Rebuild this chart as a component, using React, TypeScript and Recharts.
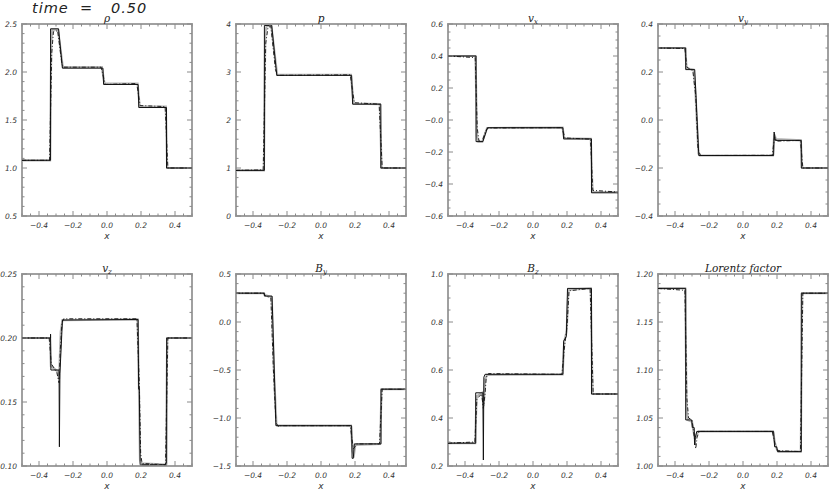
import React from 'react';
import { LineChart, Line, XAxis, YAxis, ReferenceArea } from 'recharts';

type Pt = [number, number];

// x axis (shared by all panels)
const xMajor = [-0.4, -0.2, 0.0, 0.2, 0.4];
const xMajorLabels = ['\u22120.4', '\u22120.2', '0.0', '0.2', '0.4'];

// density
const rhoExact: Pt[] = [[-0.5, 1.08], [-0.332, 1.08], [-0.332, 2.45], [-0.285, 2.45], [-0.262, 2.04], [-0.024, 2.04], [-0.02, 1.87], [0.183, 1.87], [0.187, 1.63], [0.35, 1.63], [0.35, 1.0], [0.5, 1.0]];
const rhoFine: Pt[] = [[-0.5, 1.08], [-0.335, 1.08], [-0.328, 2.3], [-0.322, 2.44], [-0.288, 2.44], [-0.26, 2.05], [-0.03, 2.05], [-0.015, 1.88], [0.18, 1.88], [0.192, 1.64], [0.346, 1.64], [0.354, 1.0], [0.5, 1.0]];
const rhoCoarse: Pt[] = [[-0.5, 1.08], [-0.338, 1.08], [-0.325, 2.2], [-0.315, 2.42], [-0.29, 2.43], [-0.265, 2.08], [-0.255, 2.05], [-0.035, 2.05], [-0.01, 1.87], [0.175, 1.88], [0.195, 1.65], [0.342, 1.64], [0.358, 1.0], [0.5, 1.0]];

// pressure
const pExact: Pt[] = [[-0.5, 0.95], [-0.333, 0.95], [-0.333, 3.97], [-0.29, 3.97], [-0.26, 2.93], [0.18, 2.93], [0.186, 2.33], [0.352, 2.33], [0.352, 1.0], [0.5, 1.0]];
const pFine: Pt[] = [[-0.5, 0.95], [-0.336, 0.95], [-0.328, 3.8], [-0.32, 3.96], [-0.292, 3.96], [-0.258, 2.94], [0.176, 2.94], [0.192, 2.34], [0.346, 2.33], [0.356, 1.0], [0.5, 1.0]];
const pCoarse: Pt[] = [[-0.5, 0.95], [-0.34, 0.96], [-0.325, 3.6], [-0.312, 3.93], [-0.295, 3.95], [-0.268, 3.05], [-0.255, 2.93], [0.172, 2.94], [0.196, 2.36], [0.342, 2.33], [0.36, 1.0], [0.5, 1.0]];

// v_x
const vxExact: Pt[] = [[-0.5, 0.4], [-0.335, 0.4], [-0.335, -0.135], [-0.295, -0.135], [-0.268, -0.048], [0.176, -0.048], [0.18, -0.118], [0.344, -0.118], [0.344, -0.455], [0.5, -0.455]];
const vxFine: Pt[] = [[-0.5, 0.4], [-0.338, 0.4], [-0.33, -0.1], [-0.322, -0.135], [-0.298, -0.135], [-0.27, -0.05], [0.174, -0.048], [0.184, -0.115], [0.34, -0.118], [0.35, -0.45], [0.5, -0.45]];
const vxCoarse: Pt[] = [[-0.5, 0.4], [-0.34, 0.39], [-0.328, -0.05], [-0.318, -0.13], [-0.3, -0.138], [-0.28, -0.07], [-0.265, -0.05], [0.17, -0.048], [0.188, -0.112], [0.338, -0.12], [0.352, -0.44], [0.5, -0.45]];

// v_y
const vyExact: Pt[] = [[-0.5, 0.3], [-0.337, 0.3], [-0.337, 0.21], [-0.284, 0.21], [-0.26, -0.148], [0.18, -0.148], [0.183, -0.05], [0.19, -0.085], [0.343, -0.085], [0.343, -0.2], [0.5, -0.2]];
const vyFine: Pt[] = [[-0.5, 0.3], [-0.34, 0.3], [-0.332, 0.215], [-0.29, 0.21], [-0.28, 0.12], [-0.262, -0.14], [-0.255, -0.148], [0.176, -0.148], [0.184, -0.06], [0.194, -0.08], [0.34, -0.085], [0.348, -0.2], [0.5, -0.2]];
const vyCoarse: Pt[] = [[-0.5, 0.3], [-0.342, 0.298], [-0.33, 0.22], [-0.295, 0.205], [-0.278, 0.1], [-0.265, -0.12], [-0.25, -0.148], [0.172, -0.147], [0.186, -0.07], [0.198, -0.088], [0.338, -0.085], [0.352, -0.2], [0.5, -0.2]];

// v_z
const vzExact: Pt[] = [[-0.5, 0.2], [-0.332, 0.2], [-0.332, 0.203], [-0.33, 0.175], [-0.282, 0.175], [-0.28, 0.115], [-0.277, 0.172], [-0.262, 0.214], [0.183, 0.2145], [0.186, 0.16], [0.19, 0.16], [0.195, 0.101], [0.351, 0.101], [0.351, 0.2], [0.5, 0.2]];
const vzFine: Pt[] = [[-0.5, 0.2], [-0.336, 0.2], [-0.33, 0.178], [-0.29, 0.174], [-0.282, 0.168], [-0.272, 0.205], [-0.262, 0.214], [0.18, 0.2145], [0.188, 0.16], [0.194, 0.105], [0.2, 0.102], [0.347, 0.101], [0.354, 0.2], [0.5, 0.2]];
const vzCoarse: Pt[] = [[-0.5, 0.2], [-0.34, 0.2], [-0.328, 0.18], [-0.295, 0.173], [-0.282, 0.165], [-0.275, 0.19], [-0.265, 0.212], [-0.255, 0.215], [0.176, 0.215], [0.19, 0.165], [0.198, 0.11], [0.206, 0.102], [0.344, 0.101], [0.358, 0.2], [0.5, 0.2]];

// B_y
const byExact: Pt[] = [[-0.5, 0.3], [-0.333, 0.3], [-0.333, 0.27], [-0.288, 0.27], [-0.265, -1.08], [0.18, -1.08], [0.183, -1.42], [0.19, -1.42], [0.196, -1.27], [0.353, -1.27], [0.353, -0.7], [0.5, -0.7]];
const byFine: Pt[] = [[-0.5, 0.3], [-0.336, 0.3], [-0.33, 0.28], [-0.29, 0.26], [-0.275, -0.6], [-0.262, -1.07], [-0.255, -1.08], [0.176, -1.08], [0.186, -1.35], [0.194, -1.38], [0.202, -1.28], [0.348, -1.27], [0.356, -0.7], [0.5, -0.7]];
const byCoarse: Pt[] = [[-0.5, 0.3], [-0.34, 0.3], [-0.325, 0.27], [-0.295, 0.25], [-0.28, -0.5], [-0.265, -1.05], [-0.25, -1.09], [-0.24, -1.08], [0.172, -1.08], [0.19, -1.32], [0.2, -1.3], [0.21, -1.27], [0.344, -1.27], [0.36, -0.7], [0.5, -0.7]];

// B_z
const bzExact: Pt[] = [[-0.5, 0.295], [-0.337, 0.295], [-0.337, 0.505], [-0.295, 0.505], [-0.292, 0.225], [-0.289, 0.57], [-0.282, 0.582], [0.176, 0.582], [0.18, 0.72], [0.196, 0.74], [0.203, 0.94], [0.344, 0.94], [0.344, 0.5], [0.5, 0.5]];
const bzFine: Pt[] = [[-0.5, 0.295], [-0.34, 0.295], [-0.332, 0.49], [-0.3, 0.505], [-0.29, 0.45], [-0.282, 0.56], [-0.27, 0.58], [0.174, 0.582], [0.184, 0.72], [0.198, 0.76], [0.208, 0.935], [0.34, 0.94], [0.35, 0.5], [0.5, 0.5]];
const bzCoarse: Pt[] = [[-0.5, 0.295], [-0.342, 0.3], [-0.33, 0.48], [-0.302, 0.5], [-0.292, 0.44], [-0.282, 0.5], [-0.275, 0.57], [-0.262, 0.585], [0.17, 0.582], [0.186, 0.7], [0.2, 0.78], [0.212, 0.93], [0.336, 0.94], [0.354, 0.5], [0.5, 0.5]];

// Lorentz factor
const lfExact: Pt[] = [[-0.5, 1.185], [-0.337, 1.185], [-0.337, 1.048], [-0.302, 1.048], [-0.298, 1.04], [-0.287, 1.04], [-0.285, 1.022], [-0.28, 1.03], [-0.272, 1.036], [0.18, 1.036], [0.186, 1.02], [0.198, 1.02], [0.203, 1.015], [0.343, 1.015], [0.343, 1.18], [0.5, 1.18]];
const lfFine: Pt[] = [[-0.5, 1.185], [-0.34, 1.185], [-0.332, 1.06], [-0.325, 1.048], [-0.3, 1.046], [-0.29, 1.035], [-0.282, 1.028], [-0.27, 1.034], [-0.262, 1.036], [0.176, 1.036], [0.188, 1.024], [0.2, 1.017], [0.208, 1.015], [0.34, 1.015], [0.348, 1.18], [0.5, 1.18]];
const lfCoarse: Pt[] = [[-0.5, 1.185], [-0.342, 1.183], [-0.33, 1.07], [-0.32, 1.05], [-0.3, 1.048], [-0.288, 1.032], [-0.278, 1.018], [-0.27, 1.03], [-0.258, 1.036], [0.172, 1.036], [0.19, 1.022], [0.204, 1.016], [0.338, 1.015], [0.352, 1.18], [0.5, 1.18]];

// y axis ticks / labels
const rhoTicks = [0.5, 1.0, 1.5, 2.0, 2.5];
const rhoLabels = ['0.5', '1.0', '1.5', '2.0', '2.5'];
const pTicks = [0, 1, 2, 3, 4];
const pLabels = ['0', '1', '2', '3', '4'];
const vxTicks = [-0.6, -0.4, -0.2, 0.0, 0.2, 0.4, 0.6];
const vxLabels = ['\u22120.6', '\u22120.4', '\u22120.2', '\u22120.0', '0.2', '0.4', '0.6'];
const vyTicks = [-0.4, -0.2, 0.0, 0.2, 0.4];
const vyLabels = ['\u22120.4', '\u22120.2', '0.0', '0.2', '0.4'];
const vzTicks = [0.1, 0.15, 0.2, 0.25];
const vzLabels = ['0.10', '0.15', '0.20', '0.25'];
const byTicks = [-1.5, -1.0, -0.5, 0.0, 0.5];
const byLabels = ['\u22121.5', '\u22121.0', '\u22120.5', '0.0', '0.5'];
const bzTicks = [0.2, 0.4, 0.6, 0.8, 1.0];
const bzLabels = ['0.2', '0.4', '0.6', '0.8', '1.0'];
const lfTicks = [1.0, 1.05, 1.1, 1.15, 1.2];
const lfLabels = ['1.00', '1.05', '1.10', '1.15', '1.20'];

const PW = 170;
const PH = 192;
const ML = 40;
const MT = 20;
const CW = 230;
const CH = 250;
const TICK = '#8a8a8a';
const FRAME = '#a0a0a0';
const LABEL_FONT = { fontFamily: 'DejaVu Sans', fontStyle: 'italic', fontSize: 7.5, fill: '#333' } as const;

const minorTicks = (lo: number, hi: number, step: number) => {
  const out: number[] = [];
  const n = Math.round((hi - lo) / step);
  for (let i = 0; i <= n; i++) out.push(Math.round((lo + i * step) * 1e6) / 1e6);
  return out;
};

const xMinor = minorTicks(-0.5, 0.5, 0.05);

const findMajor = (majors: number[], v: number) => majors.findIndex((m) => Math.abs(m - v) < 1e-6);

const renderXTick = (props: any) => {
  const { x, y, payload } = props;
  const pb = y - 7;
  const idx = findMajor(xMajor, payload.value);
  const len = idx >= 0 ? 5 : 2.5;
  return (
    <g>
      <line x1={x} x2={x} y1={pb} y2={pb - len} stroke={TICK} />
      <line x1={x} x2={x} y1={pb - PH} y2={pb - PH + len} stroke={TICK} />
      {idx >= 0 && (
        <text x={x} y={y} dy="0.71em" textAnchor="middle" {...LABEL_FONT}>
          {xMajorLabels[idx]}
        </text>
      )}
    </g>
  );
};

const makeYTick = (majors: number[], labels: string[]) => (props: any) => {
  const { x, y, payload } = props;
  const pl = x + 5;
  const idx = findMajor(majors, payload.value);
  const len = idx >= 0 ? 5 : 2.5;
  return (
    <g>
      <line x1={pl} x2={pl + len} y1={y} y2={y} stroke={TICK} />
      <line x1={pl + PW} x2={pl + PW - len} y1={y} y2={y} stroke={TICK} />
      {idx >= 0 && (
        <text x={x} y={y} dy="0.35em" textAnchor="end" {...LABEL_FONT}>
          {labels[idx]}
        </text>
      )}
    </g>
  );
};

const toRows = (pts: Pt[]) => pts.map(([x, y]) => ({ x, y }));

interface PanelProps {
  title: React.ReactNode;
  left: number;
  top: number;
  domain: [number, number];
  majors: number[];
  labels: string[];
  minorStep: number;
  exact: Pt[];
  fine: Pt[];
  coarse: Pt[];
}

function Panel({ title, left, top, domain, majors, labels, minorStep, exact, fine, coarse }: PanelProps) {
  const yMinor = minorTicks(domain[0], domain[1], minorStep);
  return (
    <div style={{ position: 'absolute', left: left - ML, top: top - MT, width: CW, height: CH }}>
      <LineChart width={CW} height={CH} margin={{ top: MT, right: CW - ML - PW, left: 0, bottom: 0 }}>
        <XAxis
          type="number"
          dataKey="x"
          domain={[-0.5, 0.5]}
          ticks={xMinor}
          interval={0}
          tickSize={0}
          tickMargin={7}
          axisLine={false}
          tick={renderXTick}
          height={CH - MT - PH}
          allowDataOverflow
          label={{ value: 'x', position: 'insideBottom', offset: 15, style: { fontFamily: 'DejaVu Sans', fontStyle: 'italic', fontSize: 9, fill: '#333' } }}
        />
        <YAxis
          type="number"
          domain={domain}
          ticks={yMinor}
          interval={0}
          tickSize={0}
          tickMargin={5}
          axisLine={false}
          width={ML}
          tick={makeYTick(majors, labels)}
          allowDataOverflow
        />
        <ReferenceArea x1={-0.5} x2={0.5} y1={domain[0]} y2={domain[1]} fill="none" stroke={FRAME} strokeWidth={2} ifOverflow="visible" />
        <Line data={toRows(fine)} dataKey="y" type="linear" stroke="#b4b4b4" strokeWidth={2.2} dot={false} isAnimationActive={false} />
        <Line data={toRows(coarse)} dataKey="y" type="linear" stroke="#222" strokeWidth={1} strokeDasharray="4 2 1 2" dot={false} isAnimationActive={false} />
        <Line data={toRows(exact)} dataKey="y" type="linear" stroke="#111" strokeWidth={1} dot={false} isAnimationActive={false} />
      </LineChart>
      <div
        style={{
          position: 'absolute', left: ML, top: MT - 11, width: PW, height: 10, zIndex: 2,
          textAlign: 'center', whiteSpace: 'nowrap',
          fontFamily: 'DejaVu Serif', fontStyle: 'italic', fontSize: 10.5, lineHeight: '10px', color: '#222',
        }}
      >
        {title}
      </div>
    </div>
  );
}

const sub = (base: string, s: string) => (
  <span>
    {base}
    <span style={{ fontSize: 7, position: 'relative', top: 2 }}>{s}</span>
  </span>
);

const timeStyle = {
  position: 'absolute', top: 0, fontFamily: 'DejaVu Sans', fontStyle: 'italic',
  fontSize: 14.5, lineHeight: '17px', letterSpacing: 1, whiteSpace: 'pre', color: '#222',
} as const;

export default function App() {
  const cols = [22, 236, 448, 658];
  const rows = [24, 274];
  return (
    <div style={{ position: 'absolute', left: 0, top: 0, width: 830, height: 490, background: '#fff', overflow: 'hidden' }}>
      <div style={{ ...timeStyle, left: 32 }}>time</div>
      <div style={{ ...timeStyle, left: 80 }}>=</div>
      <div style={{ ...timeStyle, left: 111 }}>0.50</div>
      <Panel title="ρ" left={cols[0]} top={rows[0]} domain={[0.5, 2.5]} majors={rhoTicks} labels={rhoLabels} minorStep={0.1} exact={rhoExact} fine={rhoFine} coarse={rhoCoarse} />
      <Panel title="p" left={cols[1]} top={rows[0]} domain={[0, 4]} majors={pTicks} labels={pLabels} minorStep={0.2} exact={pExact} fine={pFine} coarse={pCoarse} />
      <Panel title={sub('v', 'x')} left={cols[2]} top={rows[0]} domain={[-0.6, 0.6]} majors={vxTicks} labels={vxLabels} minorStep={0.05} exact={vxExact} fine={vxFine} coarse={vxCoarse} />
      <Panel title={sub('v', 'y')} left={cols[3]} top={rows[0]} domain={[-0.4, 0.4]} majors={vyTicks} labels={vyLabels} minorStep={0.05} exact={vyExact} fine={vyFine} coarse={vyCoarse} />
      <Panel title={sub('v', 'z')} left={cols[0]} top={rows[1]} domain={[0.1, 0.25]} majors={vzTicks} labels={vzLabels} minorStep={0.01} exact={vzExact} fine={vzFine} coarse={vzCoarse} />
      <Panel title={sub('B', 'y')} left={cols[1]} top={rows[1]} domain={[-1.5, 0.5]} majors={byTicks} labels={byLabels} minorStep={0.1} exact={byExact} fine={byFine} coarse={byCoarse} />
      <Panel title={sub('B', 'z')} left={cols[2]} top={rows[1]} domain={[0.2, 1.0]} majors={bzTicks} labels={bzLabels} minorStep={0.05} exact={bzExact} fine={bzFine} coarse={bzCoarse} />
      <Panel title="Lorentz factor" left={cols[3]} top={rows[1]} domain={[1.0, 1.2]} majors={lfTicks} labels={lfLabels} minorStep={0.01} exact={lfExact} fine={lfFine} coarse={lfCoarse} />
    </div>
  );
}
